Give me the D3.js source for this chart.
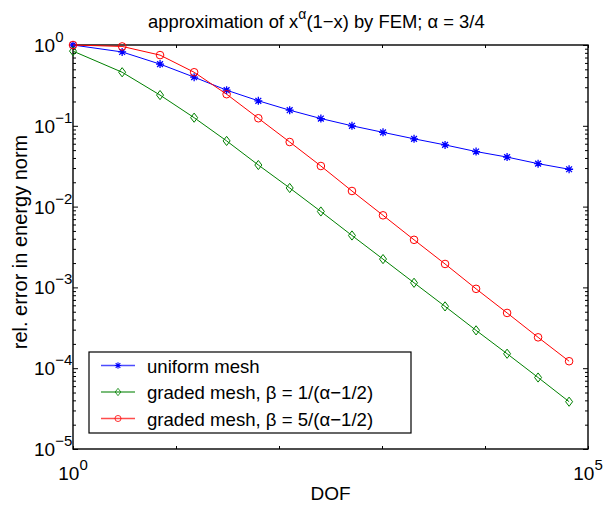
<!DOCTYPE html>
<html>
<head>
<meta charset="utf-8">
<script src="https://cdn.jsdelivr.net/npm/d3@7"></script>
<style>
body { margin: 0; background: #fff; }
text { font-family: "Liberation Sans", Arial, Helvetica, sans-serif; fill: #000; }
</style>
</head>
<body>
<svg id="chart"></svg>
<script>
// Data
const dof = [1, 3, 7, 15, 31, 63, 127, 255, 511, 1023, 2047, 4095, 8191, 16383, 32767, 65535];
const uniformErr = [1.0, 0.82, 0.58, 0.40, 0.276, 0.204, 0.156, 0.123, 0.100, 0.083, 0.069, 0.058, 0.048, 0.041, 0.034, 0.029];
const graded1Err = [0.84, 0.46, 0.24, 0.126, 0.065, 0.0327, 0.017, 0.0087, 0.00439, 0.00224, 0.00114, 0.000582, 0.000294, 0.000151, 0.0000767, 0.0000385];
const graded5Err = [1.0, 0.96, 0.75, 0.46, 0.246, 0.124, 0.063, 0.0318, 0.0156, 0.0078, 0.00388, 0.00195, 0.00096, 0.000483, 0.000241, 0.000122];
const seriesNames = ["uniform mesh", "graded mesh, \u03b2 = 1/(\u03b1\u22121/2)", "graded mesh, \u03b2 = 5/(\u03b1\u22121/2)"];
const xTickExps = [0, 1, 2, 3, 4, 5];
const xLabelExps = [0, 5];
const yTickExps = [0, -1, -2, -3, -4, -5];

const W = 603, H = 506;
const margin = { top: 45, right: 15, bottom: 57, left: 73 },
    width = W - margin.left - margin.right,
    height = H - margin.top - margin.bottom;

const svg = d3.select("#chart")
    .attr("width", W)
    .attr("height", H);

const g = svg.append("g")
    .attr("transform", `translate(${margin.left},${margin.top})`);

// Scales
const x = d3.scaleLog().domain([1, 1e5]).range([0, width]);
const y = d3.scaleLog().domain([1e-5, 1]).range([height, 0]);

const xMajor = xTickExps.map(e => Math.pow(10, e));
const yMajor = yTickExps.map(e => Math.pow(10, e));
const yMinor = [];
yTickExps.slice(1).forEach(e => {
    for (let k = 2; k <= 9; k++) yMinor.push(k * Math.pow(10, e));
});

// Axes (ticks pointing inward, no default labels)
function styleAxis(sel) {
    sel.select(".domain").remove();
    sel.selectAll(".tick line").attr("stroke", "#000").attr("stroke-width", 1);
    sel.selectAll(".tick text").remove();
}
g.append("g").attr("transform", `translate(0,${height})`)
    .call(d3.axisBottom(x).tickValues(xMajor).tickSize(-3)).call(styleAxis);
g.append("g")
    .call(d3.axisTop(x).tickValues(xMajor).tickSize(-3)).call(styleAxis);
g.append("g")
    .call(d3.axisLeft(y).tickValues(yMajor).tickSize(-5)).call(styleAxis);
g.append("g")
    .call(d3.axisLeft(y).tickValues(yMinor).tickSize(-3)).call(styleAxis);
g.append("g").attr("transform", `translate(${width},0)`)
    .call(d3.axisRight(y).tickValues(yMajor).tickSize(-5)).call(styleAxis);
g.append("g").attr("transform", `translate(${width},0)`)
    .call(d3.axisRight(y).tickValues(yMinor).tickSize(-3)).call(styleAxis);

// Frame
g.append("rect")
    .attr("width", width).attr("height", height)
    .attr("fill", "none").attr("stroke", "#000").attr("stroke-width", 1.4);

// Tick labels as 10^n
function powerLabel(sel, exp) {
    sel.append("tspan").text("10");
    sel.append("tspan").attr("dy", -10).attr("font-size", 15)
        .text(exp < 0 ? "\u2212" + (-exp) : String(exp));
}
yTickExps.forEach(e => {
    g.append("text")
        .attr("x", 34 - margin.left)
        .attr("y", y(Math.pow(10, e)) + 7)
        .attr("font-size", 19)
        .call(powerLabel, e);
});
xLabelExps.forEach(e => {
    g.append("text")
        .attr("x", x(Math.pow(10, e)))
        .attr("y", height + 31)
        .attr("font-size", 19)
        .attr("text-anchor", "middle")
        .call(powerLabel, e);
});

// Series
const series = [
    { name: seriesNames[0], values: uniformErr, color: "#0000ff", marker: "star" },
    { name: seriesNames[1], values: graded1Err, color: "#008000", marker: "diamond" },
    { name: seriesNames[2], values: graded5Err, color: "#ff0000", marker: "circle" }
];

const line = d3.line()
    .x(d => x(d[0]))
    .y(d => y(d[1]));

function drawMarker(sel, type, color) {
    if (type === "star") {
        sel.append("path")
            .attr("d", "M-4,0H4M0,-4V4M-2.9,-2.9L2.9,2.9M-2.9,2.9L2.9,-2.9")
            .attr("stroke", color).attr("stroke-width", 1.3).attr("fill", "none");
    } else if (type === "diamond") {
        sel.append("path")
            .attr("d", "M0,-4.6L3.5,0L0,4.6L-3.5,0Z")
            .attr("stroke", color).attr("stroke-width", 1).attr("fill", "none");
    } else {
        sel.append("circle").attr("r", 3.8)
            .attr("stroke", color).attr("stroke-width", 1).attr("fill", "none");
    }
}

series.forEach(s => {
    const pts = dof.map((d, i) => [d, s.values[i]]);
    g.append("path")
        .datum(pts)
        .attr("fill", "none")
        .attr("stroke", s.color)
        .attr("stroke-width", 1)
        .attr("d", line);
    g.selectAll(null)
        .data(pts)
        .enter().append("g")
        .attr("transform", d => `translate(${x(d[0])},${y(d[1])})`)
        .each(function () { drawMarker(d3.select(this), s.marker, s.color); });
});

// Legend
const legend = svg.append("g").attr("transform", "translate(89,352)");
legend.append("rect")
    .attr("width", 322).attr("height", 81)
    .attr("fill", "#fff").attr("stroke", "#000").attr("stroke-width", 1.2);
series.forEach((s, i) => {
    const ly = 13.5 + i * 26.5;
    legend.append("line")
        .attr("x1", 12).attr("x2", 46).attr("y1", ly).attr("y2", ly)
        .attr("stroke", s.color).attr("stroke-width", 1.3).attr("stroke-opacity", 0.7);
    const m = legend.append("g").attr("transform", `translate(29,${ly}) scale(0.8)`);
    drawMarker(m, s.marker, s.color);
    legend.append("text")
        .attr("x", 58).attr("y", ly + 7)
        .attr("font-size", 18.6)
        .text(s.name);
});

// Title
const title = svg.append("text")
    .attr("x", 148).attr("y", 28)
    .attr("font-size", 18.4);
title.append("tspan").text("approximation of x");
title.append("tspan").attr("dy", -9).attr("font-size", 14).text("\u03b1");
title.append("tspan").attr("dy", 9).text("(1\u2212x) by FEM; \u03b1 = 3/4");

// Axis titles
svg.append("text")
    .attr("x", margin.left + width / 2).attr("y", 500)
    .attr("text-anchor", "middle")
    .attr("font-size", 19)
    .text("DOF");
svg.append("text")
    .attr("transform", "translate(27,242) rotate(-90)")
    .attr("text-anchor", "middle")
    .attr("font-size", 20)
    .text("rel. error in energy norm");
</script>
</body>
</html>
